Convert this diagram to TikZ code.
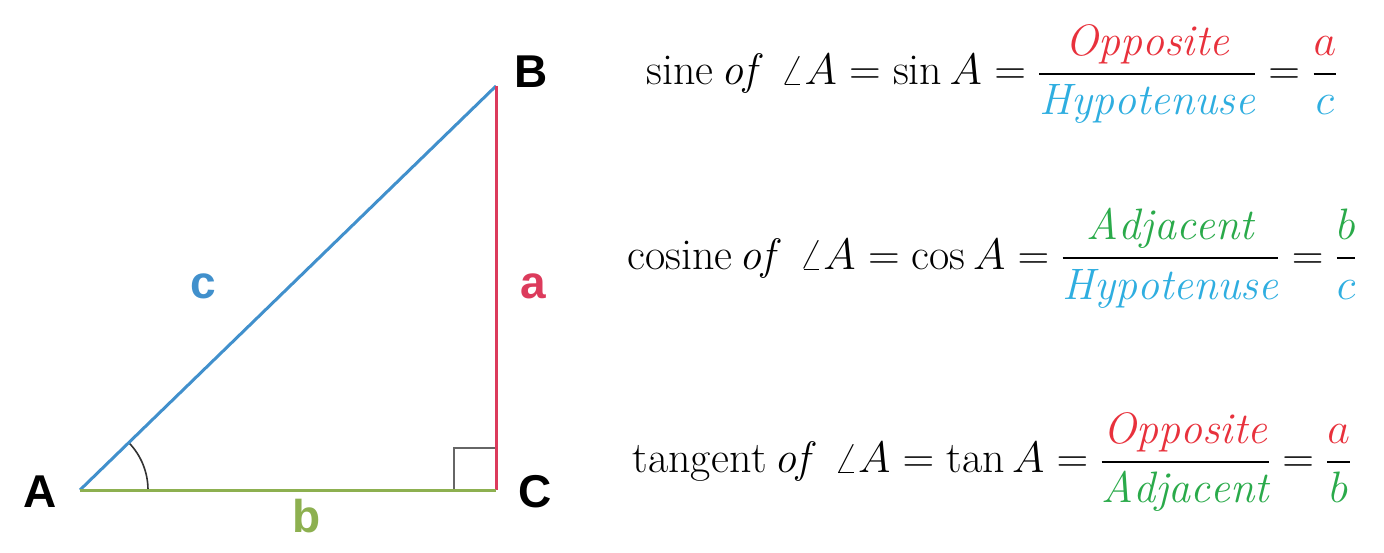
\RequirePackage{fix-cm}
\documentclass[tikz,border=0pt]{standalone}
\usepackage{fontspec}
\usepackage{amsmath}
\newfontfamily\labfont{Liberation Sans}
\definecolor{eqred}{HTML}{E8313C}
\definecolor{eqblue}{HTML}{2FAEE0}
\definecolor{eqgreen}{HTML}{2AAA4A}
\definecolor{triblue}{HTML}{4190CC}
\definecolor{trired}{HTML}{DC3B5C}
\definecolor{trigreen}{HTML}{8DB050}
\newcommand{\myfr}[2]{\genfrac{}{}{2.4pt}{0}{#1}{#2}}
\begin{document}
\begin{tikzpicture}[x=1pt,y=1pt,
  lab/.style={font=\labfont\bfseries\fontsize{46}{50}\selectfont,inner sep=0pt},
  eq/.style={font=\fontsize{44}{52}\selectfont,inner sep=0pt},
  side/.style={line width=3pt}]
\useasboundingbox (0,0) rectangle (1384,552);
\coordinate (A) at (80,62);
\coordinate (C) at (496,62);
\coordinate (B) at (496,466);
% right angle mark
\draw[line width=1.6pt,color=black!60] (454,62) |- (496,104);
% angle arc
\draw[line width=1.6pt,color=black!80] (A) ++(68,0) arc[start angle=0,end angle=44.2,radius=68pt];
\draw[side,triblue] (A) -- (B);
\draw[side,trired] (B) -- (C);
\draw[side,trigreen] (A) -- (C);
\node[lab] (lA) at (40,60) {A};
\node[lab] (lB) at (531,480) {B};
\node[lab] (lC) at (535,60) {C};
\node[lab,triblue] (lc) at (203,266) {c};
\node[lab,trired] (la) at (533,266) {a};
\node[lab,trigreen] (lb) at (307,36) {b};
\node[eq] (e1) at (992,478) {$\displaystyle \mathrm{sine}\,\mathit{of}\;\;\angle A=\sin A=\myfr{\color{eqred}\mathit{Opposite}}{\color{eqblue}\mathit{Hypotenuse}}=\myfr{\color{eqred}a}{\color{eqblue}c}$};
\node[eq] (e2) at (992,294) {$\displaystyle \mathrm{cosine}\,\mathit{of}\;\;\angle A=\cos A=\myfr{\color{eqgreen}\mathit{Adjacent}}{\color{eqblue}\mathit{Hypotenuse}}=\myfr{\color{eqgreen}b}{\color{eqblue}c}$};
\node[eq] (e3) at (992,90) {$\displaystyle \mathrm{tangent}\,\mathit{of}\;\;\angle A=\tan A=\myfr{\color{eqred}\mathit{Opposite}}{\color{eqgreen}\mathit{Adjacent}}=\myfr{\color{eqred}a}{\color{eqgreen}b}$};
\end{tikzpicture}
\end{document}
